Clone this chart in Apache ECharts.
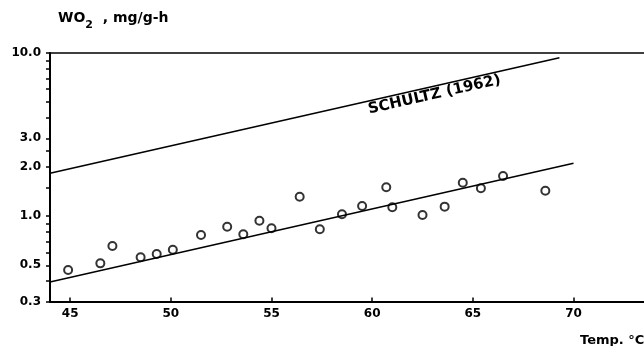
<!DOCTYPE html>
<html><head><meta charset="utf-8">
<script src="https://cdn.jsdelivr.net/npm/echarts@6/dist/echarts.min.js"></script>
<style>html,body{margin:0;padding:0;background:#fff}#c{width:644px;height:346px}</style>
</head><body><div id="c"></div>
<script>
// Measured points: temperature (°C) and oxygen consumption WO2 (mg/g-h)
const temps = [44.9, 46.5, 47.1, 48.5, 49.3, 50.1, 51.5, 52.8, 53.6, 54.4, 55.0, 56.4, 57.4, 58.5, 59.5, 60.7, 61.0, 62.5, 63.6, 64.5, 65.4, 66.5, 68.6];
const rates = [0.468, 0.514, 0.657, 0.560, 0.587, 0.623, 0.767, 0.862, 0.774, 0.938, 0.843, 1.316, 0.831, 1.027, 1.155, 1.503, 1.134, 1.017, 1.144, 1.604, 1.483, 1.763, 1.433];
// Fitted regression line endpoints
const fitTemps = [44, 70];
const fitRates = [0.395, 2.11];
// Schultz (1962) reference line endpoints
const schultzTemps = [44, 69.3];
const schultzRates = [1.83, 9.36];
const schultzLabel = 'SCHULTZ (1962)';
// Axis ticks / labels
const xLabelValues = [45, 50, 55, 60, 65, 70];
const yLabelValues = [0.3, 0.5, 1, 2, 3, 10];
const yTickValues = [0.3, 0.4, 0.5, 0.6, 0.7, 0.8, 0.9, 1, 1.5, 2, 2.5, 3, 4, 5, 6, 7, 8, 9, 10];

const FONT = '"DejaVu Sans", sans-serif';
const chart = echarts.init(document.getElementById('c'), null, {renderer: 'canvas'});

const points = temps.map((t, i) => [t, rates[i]]);
const fit = fitTemps.map((t, i) => [t, fitRates[i]]);
const schultz = schultzTemps.map((t, i) => [t, schultzRates[i]]);

const option = {
  animation: false,
  backgroundColor: '#fff',
  grid: {left: 50, right: 0, top: 53, bottom: 44.5, containLabel: false},
  xAxis: [{
    type: 'value', min: 44, max: 73.5, position: 'bottom',
    axisLine: {show: true, lineStyle: {color: '#000', width: 2}},
    axisTick: {show: true, inside: true, length: 4, customValues: xLabelValues, lineStyle: {color: '#000', width: 1.5}},
    axisLabel: {show: true, customValues: xLabelValues, margin: 6, color: '#000', fontFamily: FONT, fontWeight: 'bold', fontSize: 12},
    splitLine: {show: false}
  }, {
    type: 'value', min: 44, max: 73.5, position: 'top',
    axisLine: {show: true, onZero: false, lineStyle: {color: '#000', width: 1.5}},
    axisTick: {show: false}, axisLabel: {show: false}, splitLine: {show: false}
  }],
  yAxis: {
    type: 'log', logBase: 10, min: 0.3, max: 10,
    axisLine: {show: true, lineStyle: {color: '#000', width: 2}},
    axisTick: {show: true, inside: false, length: 4, customValues: yTickValues, lineStyle: {color: '#000', width: 1.5}},
    axisLabel: {show: true, customValues: yLabelValues, margin: 9, color: '#000', fontFamily: FONT, fontWeight: 'bold', fontSize: 12,
      formatter: v => Number(v).toFixed(1)},
    splitLine: {show: false}, minorTick: {show: false}, minorSplitLine: {show: false}
  },
  series: [{
    type: 'line', data: fit, showSymbol: false, symbol: 'none', silent: true,
    lineStyle: {color: '#000', width: 1.5}
  }, {
    type: 'line', data: schultz, showSymbol: false, symbol: 'none', silent: true,
    lineStyle: {color: '#000', width: 1.5}
  }, {
    type: 'scatter', data: points, symbol: 'circle', symbolSize: 8,
    itemStyle: {color: 'rgba(255,255,255,0)', borderColor: '#000', borderWidth: 2}
  }],
  graphic: []
};
chart.setOption(option);

// Annotation placed along the Schultz line, computed through the chart's scales
const p0 = chart.convertToPixel({xAxisIndex: 0, yAxisIndex: 0}, schultz[0]);
const p1 = chart.convertToPixel({xAxisIndex: 0, yAxisIndex: 0}, schultz[1]);
const angle = Math.atan2(p0[1] - p1[1], p1[0] - p0[0]);
const labelT = 63.0;
const frac = (labelT - schultzTemps[0]) / (schultzTemps[1] - schultzTemps[0]);
const ax = p0[0] + (p1[0] - p0[0]) * frac;
const ay = p0[1] + (p1[1] - p0[1]) * frac;

chart.setOption({
  graphic: [{
    type: 'text', x: ax, y: ay, rotation: angle, silent: true,
    style: {text: schultzLabel, x: 0, y: 1, align: 'center', verticalAlign: 'top',
      fill: '#000', font: 'bold 15px ' + FONT}
  }, {
    type: 'text', left: 58, top: 11, silent: true,
    style: {
      text: '{a|WO}{s|2}{a|  , mg/g-h}',
      rich: {
        a: {fontFamily: FONT, fontWeight: 'bold', fontSize: 14, fill: '#000', verticalAlign: 'bottom', lineHeight: 20},
        s: {fontFamily: FONT, fontWeight: 'bold', fontSize: 11, fill: '#000', verticalAlign: 'bottom', padding: [0, 0, -6, 0], lineHeight: 20}
      }
    }
  }, {
    type: 'text', left: 580, top: 334, silent: true,
    style: {text: 'Temp. °C', fill: '#000', font: 'bold 13px ' + FONT}
  }]
});
</script>
</body></html>
